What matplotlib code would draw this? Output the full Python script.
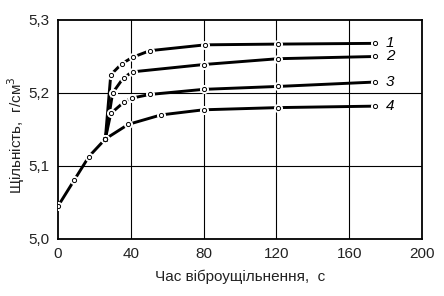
import matplotlib
matplotlib.use("Agg")
import matplotlib.pyplot as plt

plt.rcParams["font.family"] = ["Liberation Sans", "DejaVu Sans"]

# спільна початкова ділянка
t0 = [0, 9, 17, 26]
v0 = [5.045, 5.081, 5.113, 5.137]

# криві 1-4 (час, с / щільність, г/см3)
t1 = [26, 29, 35, 41, 50.5, 81, 121, 174]
v1 = [5.137, 5.225, 5.240, 5.249, 5.258, 5.266, 5.267, 5.268]
t2 = [26, 30, 36, 41, 80, 121, 174]
v2 = [5.137, 5.200, 5.221, 5.229, 5.239, 5.247, 5.250]
t3 = [26, 29, 36, 40.5, 50.5, 80, 121, 174]
v3 = [5.137, 5.172, 5.187, 5.193, 5.198, 5.205, 5.209, 5.215]
t4 = [26, 38.6, 56.6, 80, 121, 174]
v4 = [5.137, 5.157, 5.170, 5.177, 5.180, 5.182]

curves = [(t1, v1, "1"), (t2, v2, "2"), (t3, v3, "3"), (t4, v4, "4")]

fig = plt.figure(figsize=(4.44, 2.96), dpi=100)
ax = fig.add_axes([58 / 444, 57 / 296, 364 / 444, 219 / 296])

ax.set_xlim(0, 200)
ax.set_ylim(5.0, 5.3)
ax.set_xticks([0, 40, 80, 120, 160, 200])
ax.set_yticks([5.0, 5.1, 5.2, 5.3])
ax.set_yticklabels(["5,0", "5,1", "5,2", "5,3"])
ax.tick_params(length=0, labelsize=11, pad=6, labelcolor="#222222")
for sp in ax.spines.values():
    sp.set_linewidth(1.3)

for x in [40, 80, 120, 160]:
    ax.axvline(x, color="black", lw=0.8, zorder=1)
for y in [5.1, 5.2]:
    ax.axhline(y, color="black", lw=0.8, zorder=1)

def draw(t, v):
    ax.plot(t, v, color="black", lw=2.1, zorder=2, solid_capstyle="butt")
    # білий ореол під маркером дає розрив лінії
    ax.plot(t, v, ls="none", marker="o", ms=5.5, mfc="white", mec="white", zorder=3)
    ax.plot(t, v, ls="none", marker="o", ms=3.0, mfc="white", mec="black",
            mew=0.7, zorder=4)

draw(t0, v0)
for t, v, lab in curves:
    draw(t, v)
    ax.text(t[-1] + 6, v[-1], lab, fontsize=11, style="italic",
            va="center", ha="left", zorder=5)

ax.set_xlabel("Час віброущільнення,  с", fontsize=11, labelpad=6,
              color="#222222")
ax.set_ylabel("Щільність,  г/см$^3$", fontsize=11, color="#222222")
ax.yaxis.set_label_coords(-0.085, 0.475)

fig.savefig("out.png", dpi=100)
